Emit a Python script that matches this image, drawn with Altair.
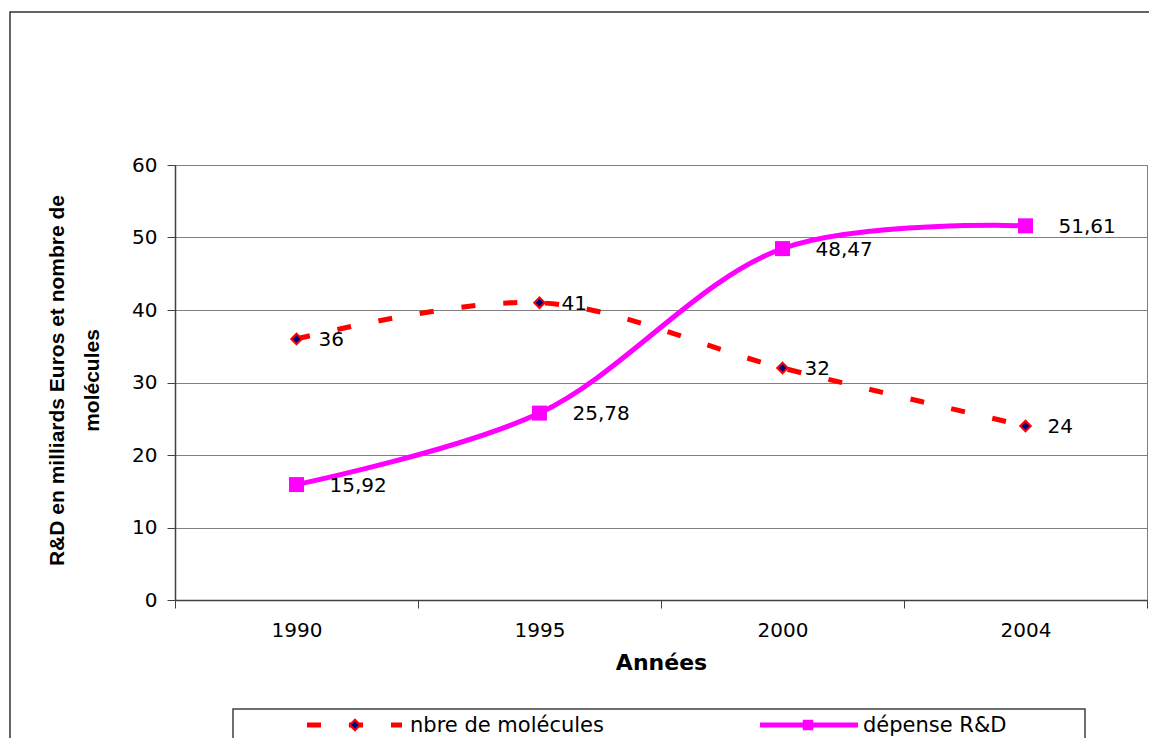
import altair as alt
import pandas as pd

# ---- data ----
years = ["1990", "1995", "2000", "2004"]
molecules = [36, 41, 32, 24]
rd_spend = [15.92, 25.78, 48.47, 51.61]
mol_labels = ["36", "41", "32", "24"]
rd_labels = ["15,92", "25,78", "48,47", "51,61"]
series_names = ["nbre de molécules", "dépense R&D"]
y_ticks = [0, 10, 20, 30, 40, 50, 60]

df = pd.DataFrame({
    "year": years,
    "mol": molecules,
    "rd": rd_spend,
    "mol_lbl": mol_labels,
    "rd_lbl": rd_labels,
})
one = pd.DataFrame({"k": [0]})

RED = "#FF0000"
MAG = "#FF00FF"
NAVY = "#000080"
FONT = "DejaVu Sans"

x_enc = alt.X(
    "year:N", sort=years,
    scale=alt.Scale(type="band", paddingInner=0, paddingOuter=0),
    axis=alt.Axis(
        title="Années", labelAngle=0, tickBand="extent",
        tickSize=8, labelPadding=12, labelFont=FONT, labelFontSize=20,
        labelColor="black", domainColor="#404040", tickColor="#404040",
        domainWidth=1.5, titleFont=FONT, titleFontSize=22,
        titleFontWeight="bold", titleColor="black",
        titleBaseline="top", titleY=52,
    ),
)

y_axis = alt.Axis(
    title=["R&D en milliards Euros et nombre de", "molécules"],
    values=y_ticks, grid=True, gridColor="#808080", gridWidth=1,
    tickSize=8, labelPadding=10, labelFont=FONT, labelFontSize=20,
    labelColor="black", domainColor="#404040", tickColor="#404040",
    domainWidth=1.5, titleFont="Liberation Sans", titleFontSize=21,
    titleFontWeight="bold", titleColor="black", titleLineHeight=35,
    titleBaseline="alphabetic", titleX=-112, titleY=215, titleAngle=270,
)
y_scale = alt.Scale(domain=[0, 60], nice=False, zero=True)

base = alt.Chart(df)

rd_line = base.mark_line(color=MAG, strokeWidth=5, interpolate="catmull-rom").encode(
    x=x_enc, y=alt.Y("rd:Q", scale=y_scale, axis=y_axis))
mol_line = base.mark_line(color=RED, strokeWidth=5, strokeDash=[14, 28],
                          interpolate="catmull-rom").encode(
    x=x_enc, y=alt.Y("mol:Q", scale=y_scale))
rd_pts = base.mark_point(shape="square", filled=True, size=225, color=MAG,
                         opacity=1).encode(x=x_enc, y=alt.Y("rd:Q", scale=y_scale))
mol_pts = base.mark_point(shape="diamond", filled=True, fill=NAVY, stroke=RED,
                          strokeWidth=2, size=110, opacity=1).encode(
    x=x_enc, y=alt.Y("mol:Q", scale=y_scale))
rd_txt = base.mark_text(align="left", baseline="middle", dx=33, dy=1, font=FONT,
                        fontSize=20, color="black").encode(
    x=x_enc, y=alt.Y("rd:Q", scale=y_scale), text="rd_lbl:N")
mol_txt = base.mark_text(align="left", baseline="middle", dx=22, dy=1, font=FONT,
                         fontSize=20, color="black").encode(
    x=x_enc, y=alt.Y("mol:Q", scale=y_scale), text="mol_lbl:N")

# ---- outer frame and legend box ----
frame = alt.Chart(one).mark_rect(fill=None, stroke="#333333", strokeWidth=1.5).encode(
    x=alt.value(-165), x2=alt.value(1100), y=alt.value(-153), y2=alt.value(700))
leg_box = alt.Chart(one).mark_rect(fill="white", stroke="#404040", strokeWidth=1.5).encode(
    x=alt.value(58), x2=alt.value(910), y=alt.value(544), y2=alt.value(700))

leg_df = pd.DataFrame({"label": series_names})
leg_mol_line = alt.Chart(one).mark_rule(color=RED, strokeWidth=5, strokeDash=[14, 28]).encode(
    x=alt.value(132), x2=alt.value(227), y=alt.value(560))
leg_mol_pt = alt.Chart(one).mark_point(shape="diamond", filled=True, fill=NAVY, stroke=RED,
                                       strokeWidth=2, size=110, opacity=1).encode(
    x=alt.value(180), y=alt.value(560))
leg_mol_txt = alt.Chart(leg_df).transform_filter(
    alt.datum.label == series_names[0]).mark_text(
    align="left", baseline="middle", font=FONT, fontSize=21, color="black").encode(
    x=alt.value(235), y=alt.value(561), text="label:N")
leg_rd_line = alt.Chart(one).mark_rule(color=MAG, strokeWidth=5).encode(
    x=alt.value(585), x2=alt.value(683), y=alt.value(560))
leg_rd_pt = alt.Chart(one).mark_point(shape="square", filled=True, size=110, color=MAG,
                                      opacity=1).encode(x=alt.value(633), y=alt.value(560))
leg_rd_txt = alt.Chart(leg_df).transform_filter(
    alt.datum.label == series_names[1]).mark_text(
    align="left", baseline="middle", font=FONT, fontSize=21, color="black").encode(
    x=alt.value(688), y=alt.value(561), text="label:N")

chart = alt.layer(
    frame, rd_line, mol_line, rd_pts, mol_pts, rd_txt, mol_txt,
    leg_box, leg_mol_line, leg_mol_pt, leg_mol_txt, leg_rd_line, leg_rd_pt, leg_rd_txt,
).properties(
    width=972, height=435,
    padding={"left": 167, "top": 157, "right": 2, "bottom": 138},
    autosize=alt.AutoSizeParams(type="none"),
    background="white",
).configure_view(stroke="#808080", strokeWidth=1)

chart.save("out.html", embed_options={"renderer": "svg", "actions": False})
